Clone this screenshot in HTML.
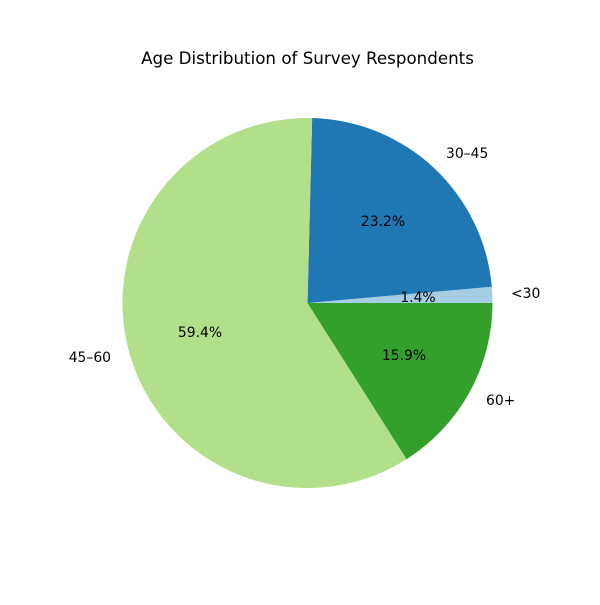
<!DOCTYPE html>
<html><head><meta charset="utf-8"><style>body{margin:0;background:#fff}</style></head>
<body>
<svg width="600" height="600" xmlns="http://www.w3.org/2000/svg" font-family="DejaVu Sans, Liberation Sans, sans-serif">
<rect width="600" height="600" fill="#fff"/>
<path d="M307.5,303 L492.5,303 A185,185 0 0 0 491.8,286.75 Z" fill="#a6cee3"/>
<path d="M307.5,303 L491.8,286.75 A185,185 0 0 0 312.15,118.06 Z" fill="#1f78b4"/>
<path d="M307.5,303 L312.15,118.06 A185,185 0 1 0 406.6,459.2 Z" fill="#b2df8a"/>
<path d="M307.5,303 L406.6,459.2 A185,185 0 0 0 492.5,303 Z" fill="#33a02c"/>
<g font-size="13.9" fill="#000">
<text x="307.5" y="64" font-size="16.7" text-anchor="middle">Age Distribution of Survey Respondents</text>
<text x="511" y="298">&lt;30</text>
<text x="446" y="158">30–45</text>
<text x="111" y="362" text-anchor="end">45–60</text>
<text x="486" y="405">60+</text>
<text x="418" y="302" text-anchor="middle">1.4%</text>
<text x="383" y="226" text-anchor="middle">23.2%</text>
<text x="200" y="337" text-anchor="middle">59.4%</text>
<text x="404" y="360" text-anchor="middle">15.9%</text>
</g>
</svg>
</body></html>
